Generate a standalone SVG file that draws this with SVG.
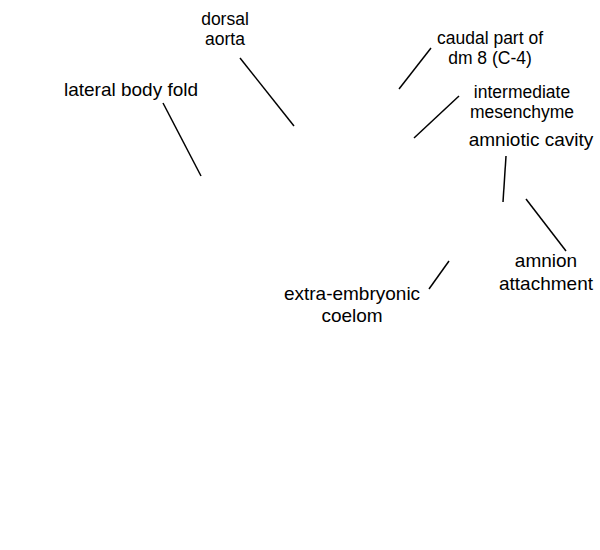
<svg xmlns="http://www.w3.org/2000/svg" width="600" height="550" viewBox="0 0 600 550">
<style>
text{font-family:"Liberation Sans",Arial,sans-serif;font-size:19px;fill:#000;text-anchor:middle}
text.t{font-size:17.5px}
.c line{stroke:#000;stroke-width:1.5}
</style>
<rect width="600" height="550" fill="#fff"/>
<g class="c" id="connectors">
<line x1="240" y1="58" x2="294" y2="126"/>
<line x1="163" y1="103" x2="201" y2="176"/>
<line x1="431" y1="48" x2="399" y2="89"/>
<line x1="459" y1="96" x2="414" y2="138"/>
<line x1="506" y1="156" x2="503" y2="202"/>
<line x1="526" y1="199" x2="566" y2="251"/>
<line x1="449" y1="261" x2="429" y2="289"/>
</g>
<g id="dorsal-aorta"><text class="t" x="225" y="25">dorsal<tspan x="225" dy="20">aorta</tspan></text></g>
<g id="lateral-body-fold"><text x="131" y="96">lateral body fold</text></g>
<g id="caudal-part"><text class="t" x="490" y="44">caudal part of<tspan x="490" dy="20">dm 8 (C-4)</tspan></text></g>
<g id="intermediate-mesenchyme"><text class="t" x="522" y="98">intermediate<tspan x="522" dy="20">mesenchyme</tspan></text></g>
<g id="amniotic-cavity"><text x="531" y="146">amniotic cavity</text></g>
<g id="amnion-attachment"><text x="546" y="267">amnion<tspan x="546" dy="23">attachment</tspan></text></g>
<g id="extra-embryonic-coelom"><text x="352" y="300">extra-embryonic<tspan x="352" dy="22">coelom</tspan></text></g>
</svg>
